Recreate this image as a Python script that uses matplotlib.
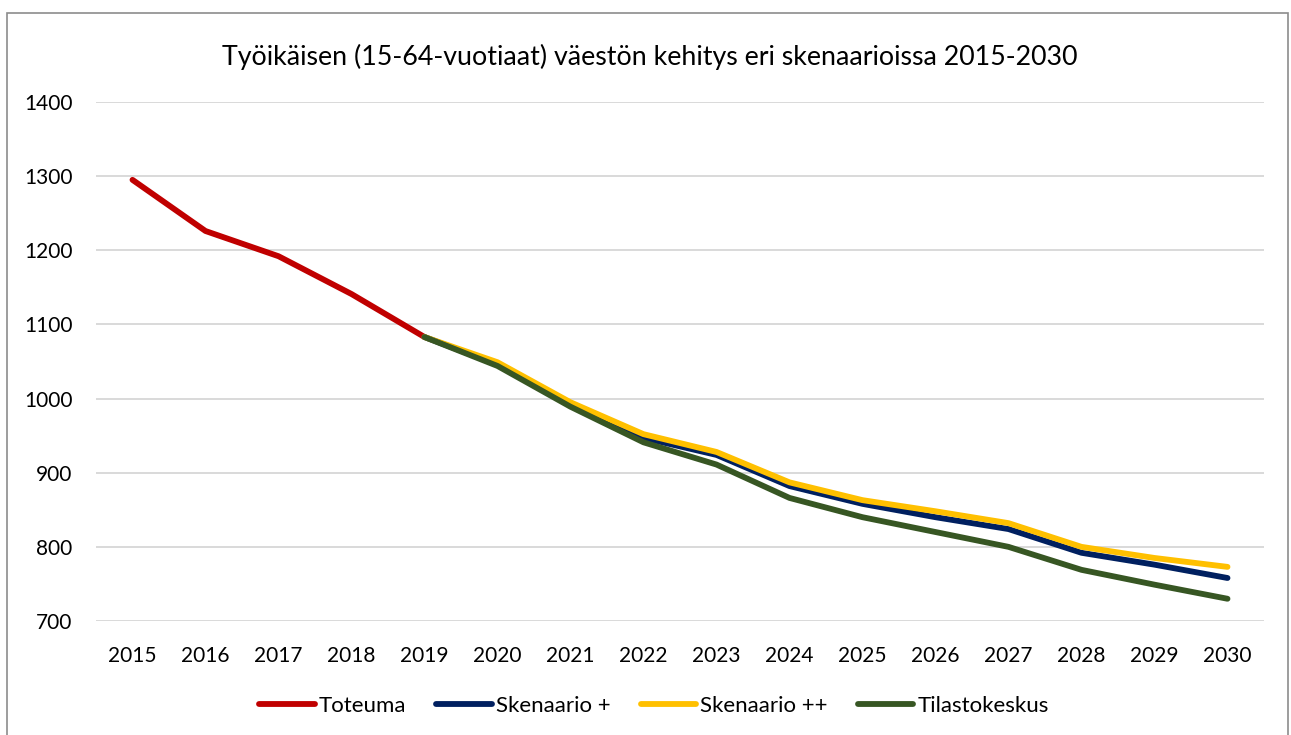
import numpy as np
import matplotlib.pyplot as plt
from matplotlib.patches import Rectangle

# Työikäinen väestö (15-64 v.) vuosittain
vuodet = [str(v) for v in range(2015, 2031)]
toteuma = [1295, 1226, 1192, 1141, 1083]
skenaario_plus = [1083, 1046, 992, 947, 924, 882, 858, 840, 824, 792, 776, 758]
skenaario_plusplus = [1083, 1049, 995, 952, 928, 887, 863, 848, 832, 800, 785, 773]
tilastokeskus = [1083, 1044, 989, 941, 911, 866, 840, 820, 800, 769, 749, 730]

x = np.arange(len(vuodet))
x_ennuste = x[4:]

plt.rcParams["font.family"] = ["Lato", "DejaVu Sans"]

fig = plt.figure(figsize=(12.91, 7.35), dpi=100)
ax = fig.add_axes([96 / 1291, 1 - 621 / 735, (1264 - 96) / 1291, (621 - 102) / 735])

# kehys kaavion ympärille
fig.patches.append(Rectangle((7 / 1291, -0.05), (1288 - 7) / 1291, 1 - 13 / 735 + 0.05,
                             transform=fig.transFigure, fill=False,
                             edgecolor="#8c8c8c", linewidth=1.2))

lw = 4.2
ax.plot(x[:5], toteuma, color="#C00000", lw=lw, solid_capstyle="round", label="Toteuma")
ax.plot(x_ennuste, skenaario_plus, color="#002060", lw=lw, solid_capstyle="round", label="Skenaario +")
ax.plot(x_ennuste, skenaario_plusplus, color="#FFC000", lw=lw, solid_capstyle="round", label="Skenaario ++")
ax.plot(x_ennuste, tilastokeskus, color="#375623", lw=lw, solid_capstyle="round", label="Tilastokeskus")

ax.set_xlim(-0.5, len(vuodet) - 0.5)
ax.set_ylim(700, 1400)
ax.set_yticks(range(700, 1401, 100))
ax.set_xticks(x)
ax.set_xticklabels(vuodet)
ax.grid(axis="y", color="#d9d9d9", lw=1.4)
ax.set_axisbelow(True)
for s in ax.spines.values():
    s.set_visible(False)
ax.tick_params(axis="both", length=0, labelsize=15, colors="black")
ax.tick_params(axis="y", pad=17)
ax.tick_params(axis="x", pad=18)

fig.text(650 / 1291, 1 - 57 / 735, "Työikäisen (15-64-vuotiaat) väestön kehitys eri skenaarioissa 2015-2030",
         ha="center", va="center", fontsize=19.3)

ax.legend(loc="center", bbox_to_anchor=(654 / 1291, 1 - 706 / 735), bbox_transform=fig.transFigure,
          ncol=4, frameon=False, fontsize=16, handlelength=2.5, handletextpad=0.18,
          columnspacing=1.35)

fig.savefig("out.png", dpi=100)
